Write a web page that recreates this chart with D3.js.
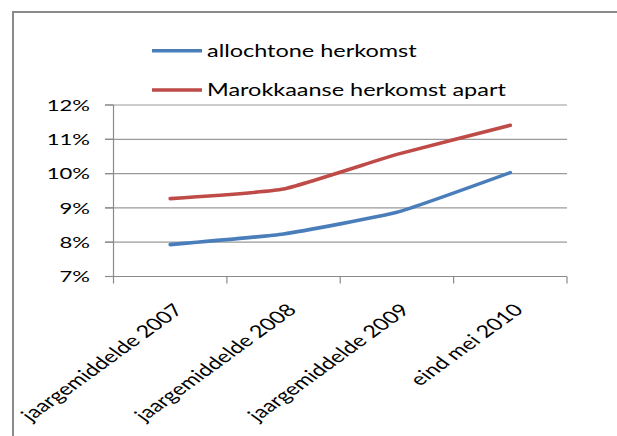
<!DOCTYPE html>
<html><head><meta charset="utf-8">
<script src="https://cdn.jsdelivr.net/npm/d3@7"></script>
<style>
html,body{margin:0;padding:0;background:#fff;}
svg{display:block;}
text{font-family:Lato,"Open Sans",sans-serif;fill:#000;}
</style></head>
<body>
<svg id="chart" width="617" height="436"></svg>
<script>
const categories = ["jaargemiddelde 2007","jaargemiddelde 2008","jaargemiddelde 2009","eind mei 2010"];
const seriesNames = ["allochtone herkomst","Marokkaanse herkomst apart"];
const allochtone = [0.0793, 0.0824, 0.0887, 0.1003];
const marokkaanse = [0.0927, 0.0955, 0.1056, 0.1141];
const yTicks = [0.07, 0.08, 0.09, 0.10, 0.11, 0.12];
const colors = ["#4A7EBB", "#BE4B48"];

const SX = 1.38; // horizontal text stretch as in the reference
const svg = d3.select("#chart");

// outer frame
svg.append("rect").attr("x",13).attr("y",12).attr("width",700).attr("height",500)
  .attr("fill","none").attr("stroke","#8a8a8a").attr("stroke-width",2);

const x = d3.scaleBand().domain(categories).range([113.5, 567]).padding(0);
const y = d3.scaleLinear().domain([0.07, 0.12]).range([276.5, 105]);
const cx = d => x(d) + x.bandwidth()/2;

// gridlines
svg.append("g").selectAll("line").data(yTicks.slice(1)).join("line")
  .attr("x1",105).attr("x2",567).attr("y1",d=>y(d)).attr("y2",d=>y(d))
  .attr("stroke","#9a9a9a").attr("stroke-width",1.2);

// y axis line + ticks
svg.append("line").attr("x1",113.5).attr("x2",113.5).attr("y1",y(0.12)).attr("y2",y(0.07))
  .attr("stroke","#8a8a8a").attr("stroke-width",1.2);
svg.append("g").selectAll("line").data(yTicks).join("line")
  .attr("x1",105).attr("x2",113.5).attr("y1",d=>y(d)).attr("y2",d=>y(d))
  .attr("stroke","#8a8a8a").attr("stroke-width",1.2);

// x axis line + ticks
svg.append("line").attr("x1",105).attr("x2",567).attr("y1",y(0.07)).attr("y2",y(0.07))
  .attr("stroke","#8a8a8a").attr("stroke-width",1.2);
const bounds = categories.map(c=>x(c)).concat([x.range()[1]]);
svg.append("g").selectAll("line").data(bounds).join("line")
  .attr("x1",d=>d).attr("x2",d=>d).attr("y1",y(0.07)).attr("y2",y(0.07)+7)
  .attr("stroke","#8a8a8a").attr("stroke-width",1.2);

// y labels
svg.append("g").selectAll("text").data(yTicks).join("text")
  .attr("transform",d=>`translate(90,${y(d)}) scale(${SX},1)`)
  .attr("text-anchor","end").attr("dy","0.36em")
  .attr("font-size",16)
  .text(d=>Math.round(d*100)+"%");

// category labels
svg.append("g").selectAll("text").data(categories).join("text")
  .attr("transform",d=>`translate(${cx(d)+14},311) scale(${SX},1) rotate(-45)`)
  .attr("text-anchor","end")
  .attr("font-size",17)
  .text(d=>d);

// lines
const line = d3.line().x((d,i)=>cx(categories[i])).y(d=>y(d)).curve(d3.curveCardinal.tension(0.6));
[allochtone, marokkaanse].forEach((s,k)=>{
  svg.append("path").datum(s).attr("d",line).attr("fill","none")
    .attr("stroke",colors[k]).attr("stroke-width",3.6).attr("stroke-linecap","round");
});

// legend
const legY = [50.7, 90];
seriesNames.forEach((n,k)=>{
  svg.append("line").attr("x1",152).attr("x2",202).attr("y1",legY[k]).attr("y2",legY[k])
    .attr("stroke",colors[k]).attr("stroke-width",3.6);
  svg.append("text").attr("transform",`translate(207,${legY[k]}) scale(${SX},1)`)
    .attr("dy","0.36em").attr("font-size",17).text(n);
});
</script>
</body></html>
